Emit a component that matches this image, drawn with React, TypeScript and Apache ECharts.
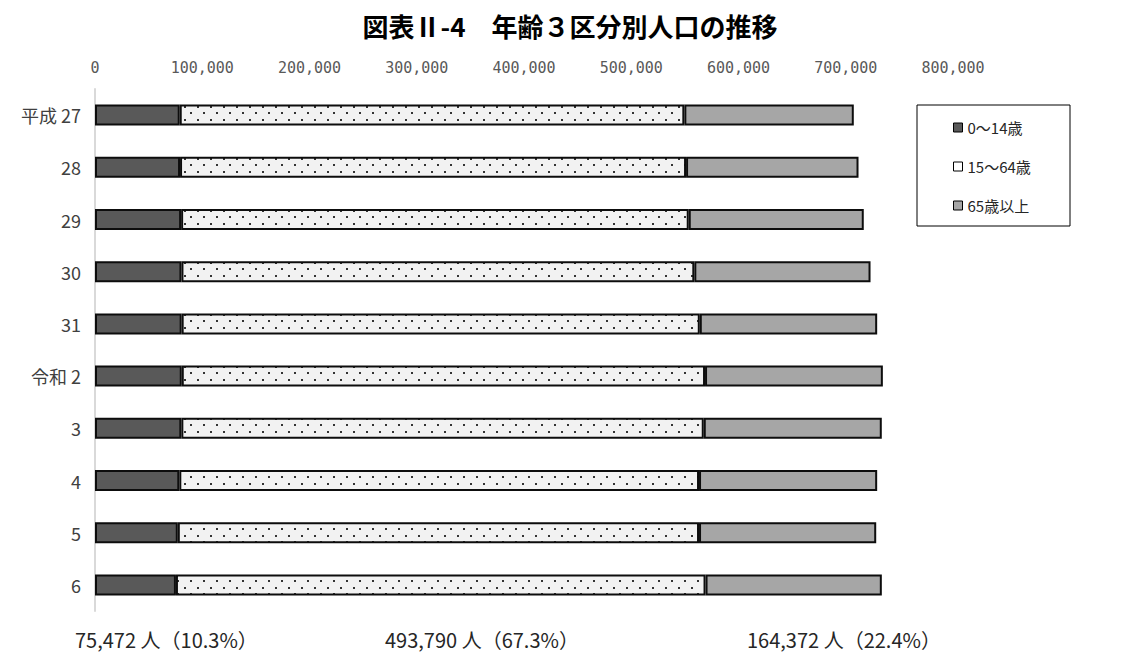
import React, { useEffect, useRef } from "react";
import * as echarts from "echarts";

// 年次（カテゴリ）
const years = ["平成 27", "28", "29", "30", "31", "令和 2", "3", "4", "5", "6"];
// 年齢3区分別人口（人）
const age0to14 = [79000, 79300, 80300, 80600, 80800, 80900, 80500, 78600, 77200, 75472];
const age15to64 = [470500, 471800, 473300, 478200, 483100, 487900, 487100, 484600, 486000, 493790];
const age65plus = [158000, 160800, 163200, 164300, 165400, 165800, 166000, 166100, 165200, 164372];
const seriesNames = ["0～14歳", "15～64歳", "65歳以上"];
// x 軸目盛
const axisMin = 0;
const axisMax = 800000;
const axisStep = 100000;

const JP_FONT = '"Noto Sans CJK JP", "Noto Sans", sans-serif';

// 15～64歳の帯に使う点描パターン
function makeDotPattern(): HTMLCanvasElement {
  const cv = document.createElement("canvas");
  cv.width = 13;
  cv.height = 13;
  const ctx = cv.getContext("2d")!;
  ctx.fillStyle = "#f2f2f2";
  ctx.fillRect(0, 0, 13, 13);
  ctx.fillStyle = "#333333";
  ctx.fillRect(2, 2, 2, 2);
  ctx.fillRect(8, 8, 2, 2);
  return cv;
}

export default function App() {
  const ref = useRef<HTMLDivElement>(null);

  useEffect(() => {
    if (!ref.current) return;
    const chart = echarts.init(ref.current, undefined, { renderer: "svg" });

    const last = years.length - 1;
    const lastVals = [age0to14[last], age15to64[last], age65plus[last]];
    const lastTotal = lastVals[0] + lastVals[1] + lastVals[2];
    const footX = [75, 385, 747];
    const footTexts = lastVals.map((v, i) => ({
      type: "text",
      left: footX[i],
      top: 629,
      style: {
        text: `${v.toLocaleString("en-US")} 人（${((v / lastTotal) * 100).toFixed(1)}%）`,
        font: `20px ${JP_FONT}`,
        fill: "#262626",
      },
    }));

    const border = { borderColor: "#0d0d0d", borderWidth: 2 };

    chart.setOption({
      animation: false,
      backgroundColor: "#ffffff",
      title: {
        text: "図表Ⅱ-4　年齢３区分別人口の推移",
        left: "center",
        top: 7,
        textStyle: {
          fontFamily: JP_FONT,
          fontSize: 26,
          fontWeight: "bold",
          color: "#000000",
        },
      },
      legend: {
        orient: "vertical",
        left: 953,
        top: 120,
        itemWidth: 9,
        itemHeight: 9,
        itemGap: 24,
        padding: 0,
        icon: "rect",
        itemStyle: { borderColor: "#000000", borderWidth: 1 },
        textStyle: { fontFamily: JP_FONT, fontSize: 15, color: "#262626" },
        data: [
          { name: seriesNames[0], itemStyle: { color: "#595959" } },
          { name: seriesNames[1], itemStyle: { color: "#ffffff" } },
          { name: seriesNames[2], itemStyle: { color: "#a6a6a6" } },
        ],
      },
      grid: { left: 95, right: 187, top: 89, bottom: 46 },
      xAxis: {
        type: "value",
        position: "top",
        min: axisMin,
        max: axisMax,
        interval: axisStep,
        axisLine: { show: false },
        axisTick: { show: false },
        splitLine: { show: false },
        axisLabel: {
          margin: 14,
          fontFamily: '"DejaVu Sans Mono", monospace',
          fontSize: 15,
          color: "#595959",
        },
      },
      yAxis: {
        type: "category",
        inverse: true,
        data: years,
        axisLine: { show: true, lineStyle: { color: "#d9d9d9", width: 2 } },
        axisTick: { show: false },
        axisLabel: {
          margin: 14,
          fontFamily: JP_FONT,
          fontSize: 18,
          color: "#404040",
        },
      },
      series: [
        {
          name: seriesNames[0],
          type: "bar",
          stack: "pop",
          barWidth: 21,
          data: age0to14,
          itemStyle: { color: "#595959", ...border },
        },
        {
          name: seriesNames[1],
          type: "bar",
          stack: "pop",
          barWidth: 21,
          data: age15to64,
          itemStyle: {
            color: { image: makeDotPattern(), repeat: "repeat" },
            ...border,
          },
        },
        {
          name: seriesNames[2],
          type: "bar",
          stack: "pop",
          barWidth: 21,
          data: age65plus,
          itemStyle: { color: "#a6a6a6", ...border },
        },
      ],
      graphic: [
        {
          type: "rect",
          shape: { x: 917, y: 105, width: 153, height: 121 },
          style: { fill: "none", stroke: "#000000", lineWidth: 1 },
        },
        ...footTexts,
      ],
    });

    return () => chart.dispose();
  }, []);

  return (
    <div
      ref={ref}
      style={{ position: "fixed", left: 0, top: 0, width: 1140, height: 657 }}
    />
  );
}
